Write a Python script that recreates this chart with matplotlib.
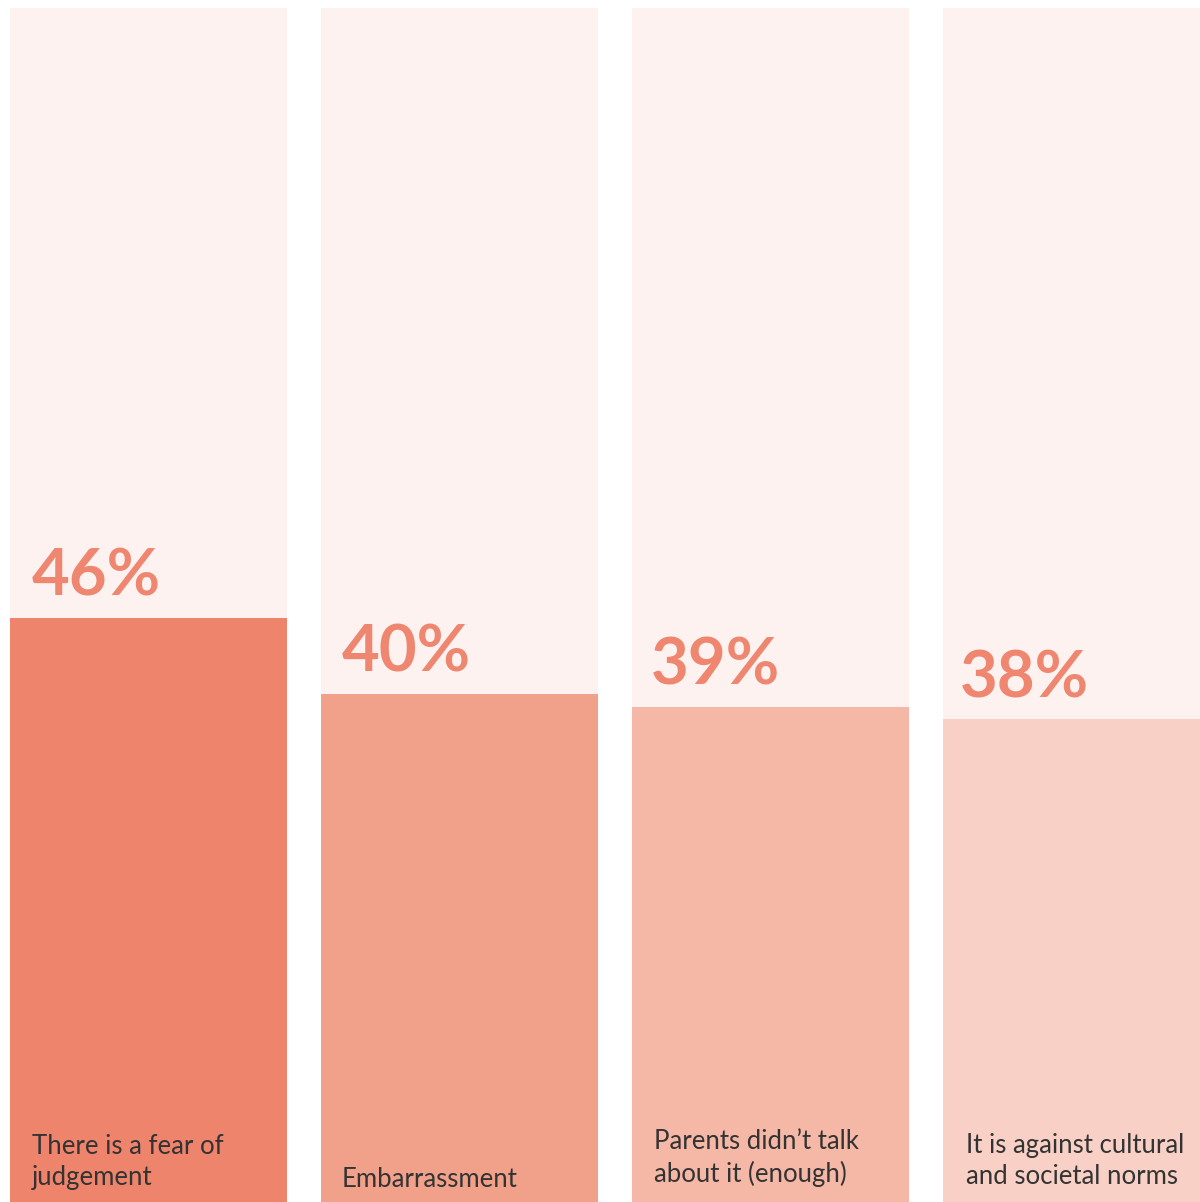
import matplotlib
matplotlib.use("Agg")
import matplotlib.pyplot as plt

# ── Data ──
categories = ["There is a fear of\njudgement", "Embarrassment",
              "Parents didn\u2019t talk\nabout it (enough)",
              "It is against cultural\nand societal norms"]
values = [46, 40, 39, 38]
full_scale = 94

bar_colors = ["#EF846D", "#F1A18A", "#F5B7A6", "#F8D0C5"]
bg_color = "#FDF2F0"
pct_color = "#EE8670"
text_color = "#333333"

# ── Figure ──
fig = plt.figure(figsize=(12, 12.02), dpi=100)
ax = fig.add_axes([0, 0, 1, 1])

px = 311.0                 # pixels per category unit
width = 277 / px
x = list(range(len(values)))

ax.bar(x, [full_scale] * len(x), width=width, color=bg_color, zorder=1)
ax.bar(x, values, width=width, color=bar_colors, zorder=2)

left0 = -width / 2 - 10 / px
ax.set_xlim(left0, left0 + 1200 / px)
ax.set_ylim(0, 1202 / 12.7)
ax.axis("off")

pct_dx = [22, 21, 19, 17]
lab_dx = [22, 21, 22, 23]
lab_dy = [0.95, 0.8, 1.2, 1.0]
for i, (v, cat) in enumerate(zip(values, categories)):
    left = i - width / 2
    ax.text(left + pct_dx[i] / px, v + 1.75, f"{v}%", fontsize=47,
            fontweight="bold", family="Lato", color=pct_color,
            va="baseline", ha="left", zorder=3)
    ax.text(left + lab_dx[i] / px, lab_dy[i], cat, fontsize=18.5,
            family="Lato", color=text_color, va="bottom", ha="left",
            linespacing=1.3, zorder=3)

fig.savefig("out.png", dpi=100)
plt.close(fig)
